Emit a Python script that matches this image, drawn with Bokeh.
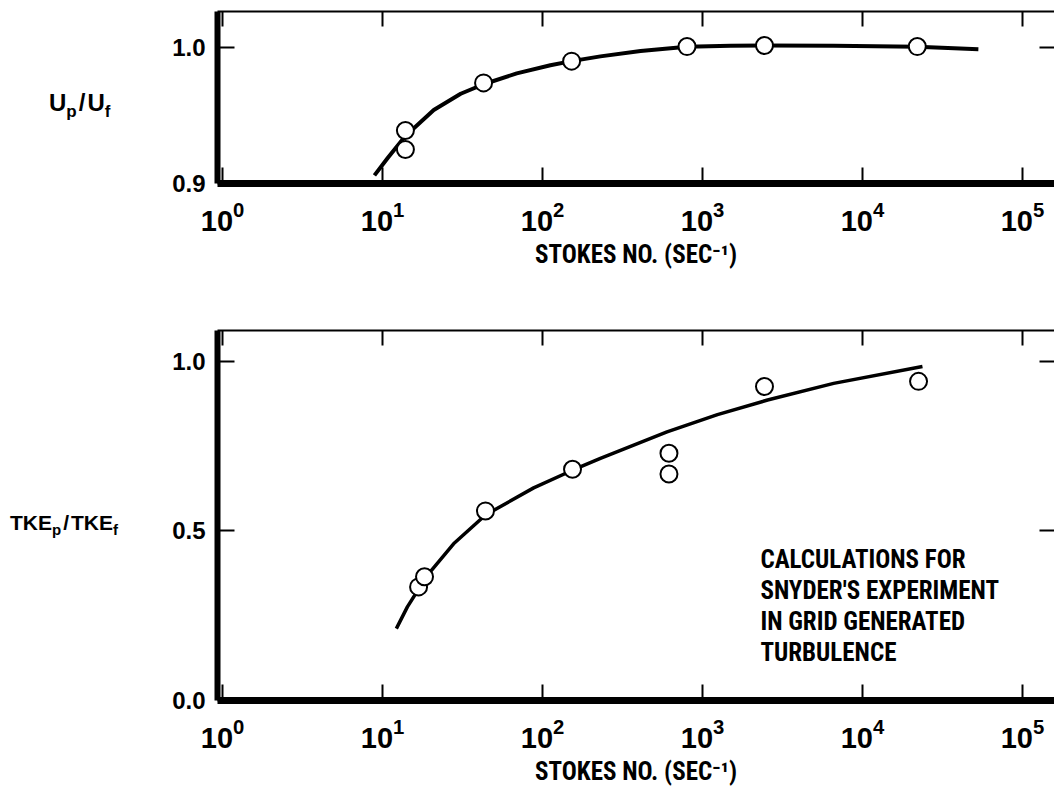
from bokeh.plotting import figure
from bokeh.models import (Range1d, FixedTicker, LogAxis, LinearAxis, Label, Div,
                          LogTickFormatter, NumeralTickFormatter)
from bokeh.layouts import column, row
from bokeh.embed import file_html
from bokeh.resources import INLINE

# ---------------- data ----------------
x_ticks = [1, 10, 100, 1000, 10000, 100000]
top_yticks = [0.9, 1.0]
bot_yticks = [0.0, 0.5, 1.0]

# U_p/U_f panel: measured points and drawn curve
top_pts_x = [13.9, 13.9, 42.8, 152, 800, 2440, 22000]
top_pts_y = [0.939, 0.925, 0.974, 0.990, 1.0007, 1.0015, 1.0007]
top_curve_x = [8.9, 10.8, 13.9, 20.9, 30.8, 42.8, 69, 112, 152, 230, 410, 800, 1500, 2440, 6600, 22000, 53000]
top_curve_y = [0.906, 0.919, 0.935, 0.954, 0.966, 0.973, 0.981, 0.987, 0.990, 0.9935, 0.9975,
               1.0005, 1.0013, 1.0015, 1.0013, 1.0005, 0.9988]

# TKE_p/TKE_f panel
bot_pts_x = [16.8, 18.3, 44, 154, 617, 617, 2440, 22400]
bot_pts_y = [0.335, 0.365, 0.559, 0.682, 0.729, 0.668, 0.926, 0.941]
bot_curve_x = [12.2, 14.3, 19.1, 27.8, 44, 88, 154, 230, 600, 1240, 2550, 6600, 23700]
bot_curve_y = [0.212, 0.276, 0.370, 0.462, 0.547, 0.627, 0.679, 0.714, 0.792, 0.843, 0.886, 0.935, 0.985]

x_title = "STOKES NO. (SEC\u207b\u00b9)"
note = "CALCULATIONS FOR\nSNYDER'S EXPERIMENT\nIN GRID GENERATED\nTURBULENCE"

MAIN_FONT = "Liberation Sans"
NARROW_FONT = "Liberation Sans Narrow, Roboto Condensed, DejaVu Sans Condensed, Liberation Sans"
LEFT_W = 150
W = 904
X_RANGE = (0.93, 158500)


def style(p, yticks):
    p.xgrid.visible = False
    p.ygrid.visible = False
    p.outline_line_color = None
    p.background_fill_color = "white"
    p.border_fill_color = "white"

    xa = p.below[0]
    xa.ticker = FixedTicker(ticks=x_ticks)
    xa.formatter = LogTickFormatter()
    xa.axis_line_width = 7
    xa.major_tick_in = 16
    xa.major_tick_out = 0
    xa.major_tick_line_width = 2
    xa.major_label_text_font = MAIN_FONT
    xa.major_label_text_font_size = "29px"
    xa.major_label_text_font_style = "bold"
    xa.major_label_text_color = "black"
    xa.major_label_standoff = 17
    xa.axis_label = x_title
    xa.axis_label_text_font = NARROW_FONT
    xa.axis_label_text_font_size = "25px"
    xa.axis_label_text_font_style = "bold"
    xa.axis_label_text_color = "black"
    xa.axis_label_standoff = 6

    ya = p.left[0]
    ya.ticker = FixedTicker(ticks=yticks)
    ya.formatter = NumeralTickFormatter(format="0.0")
    ya.axis_line_width = 6
    ya.major_tick_in = 17
    ya.major_tick_out = 0
    ya.major_tick_line_width = 2
    ya.major_label_text_font = MAIN_FONT
    ya.major_label_text_font_size = "24px"
    ya.major_label_text_font_style = "bold"
    ya.major_label_text_color = "black"
    ya.major_label_standoff = 12

    top = LogAxis(ticker=FixedTicker(ticks=x_ticks), major_label_text_font_size="0px",
                  major_label_standoff=0, major_tick_in=15, major_tick_out=0,
                  axis_line_width=2, major_tick_line_width=2)
    top.major_label_overrides = {t: "" for t in x_ticks}
    p.add_layout(top, "above")

    right = LinearAxis(ticker=FixedTicker(ticks=yticks), major_label_text_font_size="0px",
                       major_label_standoff=0, major_tick_in=15, major_tick_out=0,
                       axis_line_color=None, major_tick_line_width=2)
    right.major_label_overrides = {t: "" for t in yticks}
    p.add_layout(right, "right")


# ---------------- top panel ----------------
p1 = figure(width=W, height=300, x_axis_type="log",
            x_range=Range1d(*X_RANGE), y_range=Range1d(0.9, 1.0265),
            output_backend="svg", toolbar_location=None,
            min_border_left=67, min_border_right=0, min_border_top=11, min_border_bottom=117)
style(p1, top_yticks)
p1.line(top_curve_x, top_curve_y, line_color="black", line_width=4)
p1.scatter(top_pts_x, top_pts_y, marker="circle", size=17, fill_color="white",
           line_color="black", line_width=2)

# ---------------- bottom panel ----------------
p2 = figure(width=W, height=488, x_axis_type="log",
            x_range=Range1d(*X_RANGE), y_range=Range1d(0.0, 1.091),
            output_backend="svg", toolbar_location=None,
            min_border_left=67, min_border_right=0, min_border_top=30, min_border_bottom=87)
style(p2, bot_yticks)
p2.line(bot_curve_x, bot_curve_y, line_color="black", line_width=3.5)
p2.scatter(bot_pts_x, bot_pts_y, marker="circle", size=17, fill_color="white",
           line_color="black", line_width=2)
p2.add_layout(Label(x=2300, y=0.459, text=note, text_font=NARROW_FONT,
                    text_font_size="25px", text_font_style="bold", text_align="left",
                    text_baseline="top", text_line_height=1.07, text_color="black"))

# ---------------- y titles (with subscripts) ----------------
ytitles_html = (
    '<div style="position:relative;width:150px;height:788px;font-family:\'Liberation Sans\';'
    'font-weight:bold;color:black;">'
    '<span style="position:absolute;left:49px;top:91px;font-size:24px;line-height:24px;white-space:nowrap">'
    'U<sub style="font-size:17px">p</sub><span style="margin:0 2px">/</span>U<sub style="font-size:17px">f</sub></span>'
    '<span style="position:absolute;left:10px;top:512px;font-size:21px;line-height:21px;white-space:nowrap">'
    'TKE<sub style="font-size:15px">p</sub><span style="margin:0 2px">/</span>TKE<sub style="font-size:15px">f</sub></span>'
    '</div>'
)
left = Div(text=ytitles_html, width=LEFT_W, height=788, margin=0)

layout = row(left, column(p1, p2, spacing=0), spacing=0)
open("out.html", "w").write(file_html(layout, INLINE))
